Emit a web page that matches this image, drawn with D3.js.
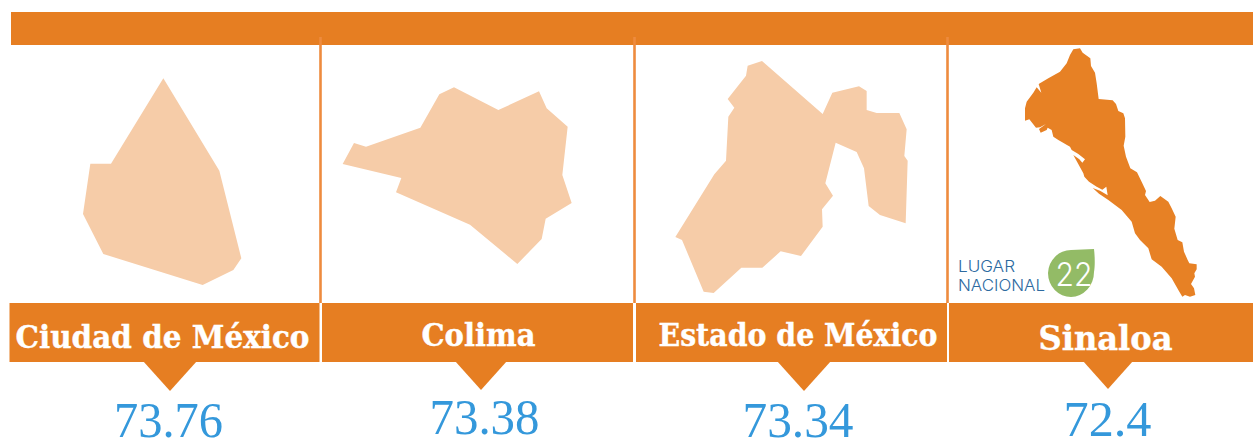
<!DOCTYPE html>
<html>
<head>
<meta charset="utf-8">
<script src="https://cdn.jsdelivr.net/npm/d3@7"></script>
<style>
html, body { margin: 0; padding: 0; background: #fff; overflow: hidden; }
</style>
</head>
<body>
<div id="content"></div>
<script>
var width = 1253;
var height = 438;

var states = ['Ciudad de México', 'Colima', 'Estado de México', 'Sinaloa'];
var values = ['73.76', '73.38', '73.34', '72.4'];
var rankLabel = ['LUGAR', 'NACIONAL'];
var rankValue = '22';

// outlines, in thirds of a pixel inside each panel crop
var outlineCdmx = [[490,235],[658,512],[724,775],[700,810],[608,855],[310,762],[249,642],[271,491],[333,491]];
var outlineColima = [[402,172],[535,240],[657,184],[680,235],[743,290],[727,435],[755,519],[677,566],[665,627],[592,702],
    [450,584],[228,487],[244,444],[68,402],[102,339],[138,350],[301,293],[358,193]];
var outlineEdomex = [[396,93],[578,252],[607,188],[687,169],[710,183],[710,240],[740,249],[808,249],[830,298],[823,378],
    [833,392],[827,580],[750,555],[716,528],[702,415],[680,366],[617,338],[586,460],[609,497],[576,538],[578,590],[513,678],
    [452,664],[397,713],[334,713],[251,789],[221,785],[156,630],[136,621],[253,433],[288,392],[295,260],[313,233],[293,207],
    [348,137],[353,107]];
var outlineSinaloa = [[385,58],[405,55],[413,68],[436,85],[438,108],[450,128],[455,160],[461,207],[503,211],[513,222],
    [520,243],[535,250],[540,265],[541,320],[536,347],[543,380],[556,415],[576,427],[592,460],[603,483],[600,495],[614,516],
    [630,512],[646,498],[670,515],[680,535],[692,560],[688,596],[698,630],[712,637],[717,665],[728,690],[733,700],[755,703],
    [755,718],[748,730],[750,740],[738,762],[747,775],[751,795],[735,800],[720,795],[712,800],[703,785],[680,745],[650,710],
    [620,688],[610,655],[585,630],[570,610],[560,575],[530,540],[490,510],[462,491],[443,474],[465,482],[488,496],[484,470],
    [472,479],[455,470],[432,455],[418,440],[415,430],[385,375],[403,388],[412,398],[420,388],[400,372],[380,360],[375,350],
    [340,330],[325,320],[320,300],[308,293],[305,300],[287,308],[282,297],[303,282],[285,292],[273,293],[253,268],[240,272],
    [240,235],[245,215],[265,188],[275,172],[289,188],[281,162],[310,145],[345,125],[365,100],[375,75]];
var outlines = [outlineCdmx, outlineColima, outlineEdomex, outlineSinaloa];

// layout per panel, the source artwork is not very regular
var cropX = [0, 320, 630, 945];
var cropY = [0, 30, 30, 30];
var bannerX = [9.5, 322, 636, 949];
var bannerW = [310, 311, 311, 304];
var pointerX = [170, 481, 804, 1108];
var pointerTip = [391, 390, 391, 389];
var pointerHalf = [27, 26, 27, 25];
var labelX = [162.5, 478.5, 798, 1105.5];
var labelY = [348, 346, 346, 350];
var labelW = [294, 114, 279, 134];
var labelSize = [31, 31, 31, 33.5];
var numberX = [168.5, 484.5, 798, 1107.5];
var numberY = [437, 434, 437, 436];
var numberW = [109, 110, 111, 88];
var rankWidth = [57, 87];
var dividerX = [320.5, 634.5, 947.5];

var orange = '#e67e22';

var svg = d3.select('div#content').append('svg')
    .attr('width', width)
    .attr('height', height)
    .attr('viewBox', '0 0 ' + width + ' ' + height)
    .style('display', 'block');

svg.append('rect')
    .attr('x', 11).attr('y', 12)
    .attr('width', width - 11).attr('height', 33)
    .attr('fill', orange);

svg.selectAll('line.divider')
    .data(dividerX).enter()
    .append('line')
        .attr('class', 'divider')
        .attr('x1', function(d){ return d; })
        .attr('x2', function(d){ return d; })
        .attr('y1', 37)
        .attr('y2', 303)
        .attr('stroke', '#ee8b3e')
        .attr('stroke-width', 2.6);

var panels = svg.selectAll('g.panel')
    .data(states).enter()
    .append('g')
        .attr('class', 'panel');

panels.append('path')
    .attr('d', function(d, i){
        var x = d3.scaleLinear().domain([0, 3]).range([cropX[i], cropX[i] + 1]);
        var y = d3.scaleLinear().domain([0, 3]).range([cropY[i], cropY[i] + 1]);
        var line = d3.line()
            .x(function(p){ return x(p[0]); })
            .y(function(p){ return y(p[1]); })
            .curve(d3.curveLinearClosed);
        return line(outlines[i]);
    })
    .attr('fill', function(d, i){ return i === 3 ? '#e78125' : '#f6cca8'; });

panels.append('rect')
    .attr('x', function(d, i){ return bannerX[i]; })
    .attr('y', 303)
    .attr('width', function(d, i){ return bannerW[i]; })
    .attr('height', 59)
    .attr('fill', orange);

panels.append('path')
    .attr('d', function(d, i){
        return d3.line()([
            [pointerX[i] - pointerHalf[i], 361],
            [pointerX[i] + pointerHalf[i], 361],
            [pointerX[i], pointerTip[i]]
        ]) + 'Z';
    })
    .attr('fill', orange);

panels.append('text')
    .attr('x', function(d, i){ return labelX[i]; })
    .attr('y', function(d, i){ return labelY[i]; })
    .attr('text-anchor', 'middle')
    .attr('textLength', function(d, i){ return labelW[i]; })
    .attr('lengthAdjust', 'spacingAndGlyphs')
    .style('font-family', '"DejaVu Serif", serif')
    .style('font-weight', 700)
    .style('font-size', function(d, i){ return labelSize[i] + 'px'; })
    .attr('fill', '#fff')
    .attr('stroke', '#fff')
    .attr('stroke-width', 0.4)
    .text(function(d){ return d; });

panels.append('text')
    .attr('x', function(d, i){ return numberX[i]; })
    .attr('y', function(d, i){ return numberY[i]; })
    .attr('text-anchor', 'middle')
    .attr('textLength', function(d, i){ return numberW[i]; })
    .attr('lengthAdjust', 'spacingAndGlyphs')
    .style('font-family', '"Liberation Serif", serif')
    .style('font-size', '51px')
    .attr('fill', '#3498db')
    .text(function(d, i){ return values[i]; });

// rank badge of the last panel
var badge = svg.append('g');

badge.selectAll('text')
    .data(rankLabel).enter()
    .append('text')
        .attr('x', 958)
        .attr('y', function(d, i){ return 272 + i * 19; })
        .attr('textLength', function(d, i){ return rankWidth[i]; })
        .attr('lengthAdjust', 'spacingAndGlyphs')
        .style('font-family', 'Inter, "Open Sans", sans-serif')
        .style('font-weight', 300)
        .style('font-size', '16px')
        .attr('fill', '#2d6a9f')
        .text(function(d){ return d; });

badge.append('path')
    .attr('d', 'M1094,249 C1095,258 1095,266 1094,272 A23.5,25 0 0 1 1071,297 A23,24 0 0 1 1048,273 A23,24 0 0 1 1071,250 Z')
    .attr('fill', '#93bb66');

badge.append('text')
    .attr('x', 1074)
    .attr('y', 286)
    .attr('text-anchor', 'middle')
    .attr('textLength', 37)
    .attr('lengthAdjust', 'spacingAndGlyphs')
    .style('font-family', 'Inter, "Open Sans", sans-serif')
    .style('font-weight', 300)
    .style('font-size', '33px')
    .attr('fill', '#fff')
    .text(rankValue);
</script>
</body>
</html>
